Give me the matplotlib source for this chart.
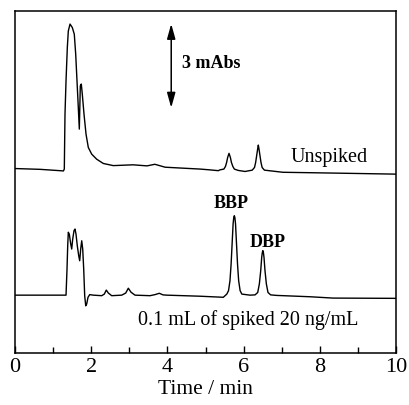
import matplotlib
matplotlib.use('Agg')
import matplotlib.pyplot as plt
from matplotlib.ticker import MultipleLocator

plt.rcParams['font.family'] = ['Liberation Serif', 'DejaVu Serif']

# unspiked sample trace (time in min, absorbance in mAbs incl. offset)
t_unspiked = [0.0, 0.66, 1.18, 1.27, 1.294, 1.312, 1.339, 1.373, 1.399, 1.444,
              1.504, 1.556, 1.593, 1.627, 1.661, 1.688, 1.714, 1.740, 1.766, 1.811,
              1.864, 1.924, 2.013, 2.144, 2.318, 2.58, 3.097, 3.465, 3.67, 3.94,
              4.33, 4.86, 5.118, 5.336, 5.377, 5.482, 5.524, 5.554, 5.582, 5.617,
              5.652, 5.680, 5.717, 5.757, 5.857, 6.037, 6.226, 6.286, 6.316, 6.342,
              6.368, 6.386, 6.404, 6.430, 6.456, 6.486, 6.546, 7.03, 8.35, 10.0]
a_unspiked = [6.92, 6.89, 6.84, 6.83, 6.90, 8.96, 10.21, 11.46, 12.08, 12.34,
              12.21, 11.96, 11.21, 10.21, 9.22, 8.40, 10.02, 10.09, 9.71, 8.96,
              8.21, 7.71, 7.46, 7.27, 7.11, 7.03, 7.06, 7.02, 7.08, 6.97,
              6.94, 6.90, 6.87, 6.84, 6.87, 6.90, 7.00, 7.15, 7.34, 7.49,
              7.34, 7.15, 7.00, 6.90, 6.85, 6.81, 6.86, 6.96, 7.15, 7.40,
              7.65, 7.80, 7.65, 7.40, 7.15, 6.96, 6.86, 6.78, 6.75, 6.71]

# spiked sample trace (BBP and DBP)
t_spiked = [0.0, 0.656, 1.339, 1.365, 1.383, 1.399, 1.425, 1.462, 1.488, 1.514,
            1.549, 1.575, 1.601, 1.635, 1.672, 1.698, 1.724, 1.751, 1.777, 1.803,
            1.829, 1.856, 1.882, 1.916, 1.961, 2.055, 2.276, 2.344, 2.396, 2.449,
            2.538, 2.801, 2.906, 2.974, 3.045, 3.150, 3.543, 3.675, 3.787, 3.885,
            3.982, 4.856, 5.467, 5.559, 5.604, 5.642, 5.672, 5.698, 5.724, 5.741,
            5.756, 5.771, 5.788, 5.814, 5.840, 5.870, 5.908, 5.953, 6.168, 6.300,
            6.370, 6.413, 6.449, 6.475, 6.490, 6.505, 6.520, 6.535, 6.561, 6.597,
            6.640, 6.710, 6.869, 7.743, 8.346, 10.0]
a_spiked = [2.17, 2.17, 2.17, 3.15, 4.02, 4.53, 4.46, 4.09, 3.90, 4.27,
            4.59, 4.65, 4.46, 4.02, 3.65, 3.46, 3.90, 4.21, 3.90, 3.15,
            2.15, 1.77, 1.84, 2.09, 2.19, 2.17, 2.15, 2.21, 2.36, 2.25,
            2.15, 2.17, 2.25, 2.43, 2.28, 2.17, 2.15, 2.19, 2.24, 2.18,
            2.17, 2.13, 2.09, 2.21, 2.34, 2.71, 3.34, 4.09, 4.84, 5.08,
            5.15, 5.08, 4.84, 4.09, 3.34, 2.71, 2.34, 2.21, 2.17, 2.18,
            2.27, 2.59, 3.09, 3.59, 3.76, 3.84, 3.76, 3.59, 3.09, 2.59,
            2.27, 2.18, 2.16, 2.11, 2.06, 2.05]

fig = plt.figure(figsize=(4.1, 4.06), dpi=100)
ax = fig.add_axes([0.0366, 0.1281, 0.9293, 0.8423])

ax.plot(t_unspiked, a_unspiked, color='black', lw=1.0)
ax.plot(t_spiked, a_spiked, color='black', lw=1.0)

ax.set_xlim(0, 10)
ax.set_ylim(0, 12.83)
ax.set_yticks([])
ax.xaxis.set_major_locator(MultipleLocator(2))
ax.xaxis.set_minor_locator(MultipleLocator(1))
ax.tick_params(axis='x', which='major', direction='in', length=5, width=1, labelsize=16, pad=3)
ax.tick_params(axis='x', which='minor', direction='in', length=4, width=1)
for s in ax.spines.values():
    s.set_linewidth(1.1)

ax.set_xlabel('Time / min', fontsize=15.5, labelpad=2)

# 3 mAbs scale bar
ax.annotate('', xy=(4.1, 12.35), xytext=(4.1, 9.2),
            arrowprops=dict(arrowstyle='<|-|>,head_length=0.9,head_width=0.25',
                            mutation_scale=10, color='black', lw=1.1,
                            shrinkA=0, shrinkB=0))
ax.text(4.37, 10.9, '3 mAbs', fontsize=13, fontweight='bold', va='center', ha='left')

ax.text(7.22, 7.39, 'Unspiked', fontsize=14.5, va='center', ha='left')
ax.text(3.23, 1.27, '0.1 mL of spiked 20 ng/mL', fontsize=14.5, va='center', ha='left')
ax.text(5.67, 5.65, 'BBP', fontsize=13, fontweight='bold', va='center', ha='center')
ax.text(6.64, 4.18, 'DBP', fontsize=13, fontweight='bold', va='center', ha='center')

plt.savefig('out.png', dpi=100)
plt.close()
